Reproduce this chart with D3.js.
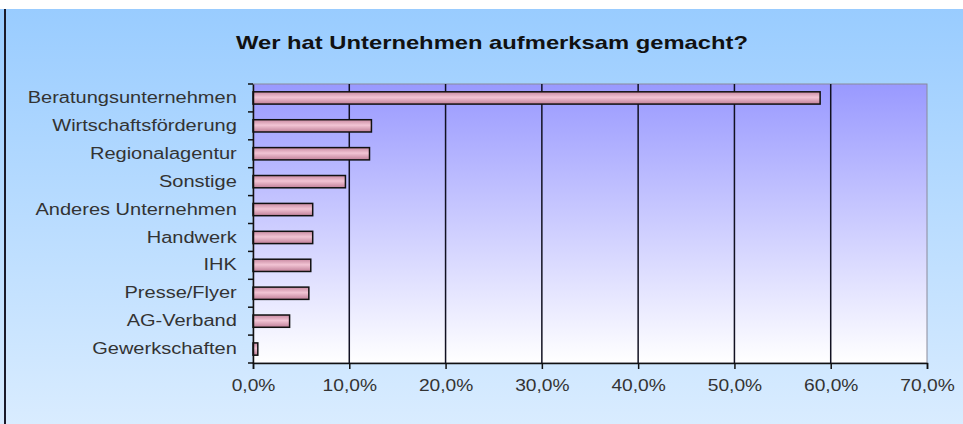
<!DOCTYPE html>
<html>
<head>
<meta charset="utf-8">
<script src="https://cdn.jsdelivr.net/npm/d3@7"></script>
<style>
body { margin: 0; background: #fff; }
svg { display: block; font-family: "Liberation Sans", Arial, sans-serif; }
</style>
</head>
<body>
<svg></svg>
<script>
const width = 963;
const height = 424;

const categories = ["Beratungsunternehmen", "Wirtschaftsförderung", "Regionalagentur", "Sonstige",
    "Anderes Unternehmen", "Handwerk", "IHK", "Presse/Flyer", "AG-Verband", "Gewerkschaften"];
const values = [58.9, 12.3, 12.1, 9.6, 6.2, 6.2, 6.0, 5.8, 3.8, 0.5];
const xTicks = [0, 10, 20, 30, 40, 50, 60, 70];

const margin = {top: 84, right: 36, bottom: 61, left: 253};
const svg = d3.select("svg").attr("width", width).attr("height", height);
const defs = svg.append("defs");

const bg = defs.append("linearGradient").attr("id", "bg").attr("x1", 0).attr("y1", 0).attr("x2", 0).attr("y2", 1);
bg.append("stop").attr("offset", "0%").attr("stop-color", "#99ccff");
bg.append("stop").attr("offset", "100%").attr("stop-color", "#d9ecff");

const plotBg = defs.append("linearGradient").attr("id", "plotbg").attr("x1", 0).attr("y1", 0).attr("x2", 0).attr("y2", 1);
plotBg.append("stop").attr("offset", "0%").attr("stop-color", "#9999ff");
plotBg.append("stop").attr("offset", "100%").attr("stop-color", "#ffffff");

const barGrad = defs.append("linearGradient").attr("id", "bar").attr("x1", 0).attr("y1", 0).attr("x2", 0).attr("y2", 1);
barGrad.append("stop").attr("offset", "0%").attr("stop-color", "#c98aa2");
barGrad.append("stop").attr("offset", "45%").attr("stop-color", "#f2c4d4");
barGrad.append("stop").attr("offset", "100%").attr("stop-color", "#c07f98");

// chart background
svg.append("rect").attr("x", 0).attr("y", 9).attr("width", width).attr("height", height - 9).attr("fill", "url(#bg)");
svg.append("rect").attr("x", 4).attr("y", 9).attr("width", 2).attr("height", height - 9).attr("fill", "#1a1a2a");

svg.append("text")
    .attr("x", 236).attr("y", 49)
    .attr("textLength", 512).attr("lengthAdjust", "spacingAndGlyphs")
    .attr("font-size", 19).attr("font-weight", "bold").attr("fill", "#111")
    .text("Wer hat Unternehmen aufmerksam gemacht?");

const x = d3.scaleLinear().domain([0, 70]).range([margin.left, width - margin.right]);
const y = d3.scaleBand().domain(categories).range([margin.top, height - margin.bottom]).paddingInner(0.56).paddingOuter(0.28);
const yTicks = d3.scaleBand().domain(categories).range([margin.top, height - margin.bottom]);

svg.append("rect")
    .attr("x", x(0)).attr("y", margin.top)
    .attr("width", x(70) - x(0)).attr("height", height - margin.bottom - margin.top)
    .attr("fill", "url(#plotbg)").attr("stroke", "#8a8a9a").attr("stroke-width", 1);

// gridlines
svg.append("g").selectAll("line")
    .data(xTicks.slice(1, -1))
    .join("line")
    .attr("x1", d => x(d)).attr("x2", d => x(d))
    .attr("y1", margin.top).attr("y2", height - margin.bottom)
    .attr("stroke", "#111122").attr("stroke-width", 1.5);

// bars
svg.append("g").selectAll("rect")
    .data(values)
    .join("rect")
    .attr("x", x(0))
    .attr("y", (d, i) => y(categories[i]))
    .attr("width", d => x(d) - x(0))
    .attr("height", y.bandwidth())
    .attr("fill", "url(#bar)")
    .attr("stroke", "#111").attr("stroke-width", 1.5);

// x axis
const xAxis = svg.append("g")
    .attr("transform", `translate(0,${height - margin.bottom})`)
    .call(d3.axisBottom(x).tickValues(xTicks).tickSize(6).tickPadding(11)
        .tickFormat(d => d3.format(".1f")(d).replace(".", ",") + "%"));
xAxis.select(".domain").attr("stroke", "#111").attr("stroke-width", 1.5);
xAxis.selectAll(".tick line").attr("stroke", "#111").attr("stroke-width", 1.5);
xAxis.selectAll("text").attr("font-size", 16).attr("fill", "#333")
    .attr("font-family", "\"Liberation Sans\", Arial, sans-serif")
    .attr("transform", "scale(1.2,1)");

// y axis
const yAxis = svg.append("g")
    .attr("transform", `translate(${x(0)},0)`)
    .call(d3.axisLeft(yTicks).tickSize(0).tickPadding(13));
yAxis.select(".domain").attr("stroke", "#111").attr("stroke-width", 1.5);
yAxis.selectAll(".tick line").remove();
yAxis.selectAll("text").attr("font-size", 16).attr("fill", "#333")
    .attr("font-family", "\"Liberation Sans\", Arial, sans-serif")
    .attr("transform", "scale(1.25,1)");

// y tick marks at band boundaries
svg.append("g").selectAll("line")
    .data(categories.concat([null]))
    .join("line")
    .attr("x1", x(0) - 5).attr("x2", x(0))
    .attr("y1", (d, i) => margin.top + i * yTicks.step())
    .attr("y2", (d, i) => margin.top + i * yTicks.step())
    .attr("stroke", "#111").attr("stroke-width", 1.5);
</script>
</body>
</html>
